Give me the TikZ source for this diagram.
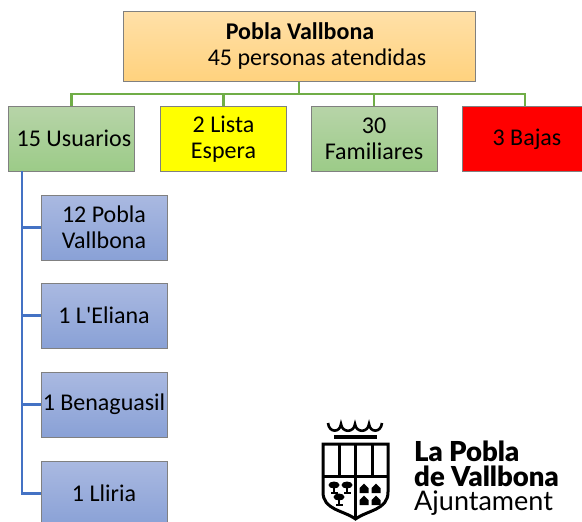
\documentclass[tikz,border=0pt]{standalone}
\usepackage{fontspec}
\usetikzlibrary{calc}
\setmainfont{Carlito}
\newfontfamily\plainfont{Carlito}
\newfontfamily\logofont[BoldFont={Lato Black}]{Lato}
\definecolor{oTop}{HTML}{FFE0A8}
\definecolor{oBot}{HTML}{FFD27E}
\definecolor{gTop}{HTML}{B7D4A8}
\definecolor{gBot}{HTML}{9CCB88}
\definecolor{bTop}{HTML}{AAB9E1}
\definecolor{bBot}{HTML}{89A1D6}
\definecolor{gLine}{HTML}{70AD47}
\definecolor{bLine}{HTML}{4472C4}
\definecolor{yBox}{HTML}{FFFF00}
\definecolor{rBox}{HTML}{FF0000}
\tikzset{
  box/.style={draw=black!50,line width=1pt,minimum width=126pt,minimum height=65pt,inner sep=0pt,align=center,font=\fontsize{24}{26}\selectfont,text=black},
  greenbox/.style={box,top color=gTop,bottom color=gBot},
  bluebox/.style={box,top color=bTop,bottom color=bBot},
  gline/.style={draw=gLine,line width=2.4pt},
  bline/.style={draw=bLine,line width=2.4pt},
  crest/.style={draw=black,line width=3pt,line join=miter},
  logotext/.style={anchor=west,inner sep=0pt}
}
\begin{document}
\begin{tikzpicture}[x=1pt,y=-1pt]
\useasboundingbox (0,0) rectangle (582,522);
\clip (0,0) rectangle (582,522);
\coordinate (bus) at (299,94);
\coordinate (trunk) at (22,171);
\node[box,minimum width=352pt,minimum height=70pt,top color=oTop,bottom color=oBot] (root) at (299,46) {\textbf{Pobla Vallbona}\hspace*{-2pt}\\\hspace*{36pt}45 personas atendidas};
\node[greenbox] (usu) at (71.5,138.5) {\hspace*{5pt}15 Usuarios};
\node[box,fill=yBox] (lista) at (223.5,139) {2 Lista\\Espera};
\node[greenbox] (fam) at (374,138.5) {30\\Familiares};
\node[box,fill=rBox] (baj) at (525,139) {\hspace*{4pt}3 Bajas};
\node[bluebox] (c1) at (104,227.5) {12 Pobla\\Vallbona};
\node[bluebox] (c2) at (104,315.5) {\plainfont 1 L'Eliana};
\node[bluebox] (c3) at (104,404.5) {1 Benaguasil};
\node[bluebox] (c4) at (104,493.5) {1 Lliria};
\draw[gline] (root.south) -- (bus) -| (usu.north);
\draw[gline] (bus) -| (lista.north);
\draw[gline] (bus) -| (fam.north);
\draw[gline] (bus) -| (baj.north);
\draw[bline] (trunk) |- (c1.west);
\draw[bline] (trunk) |- (c2.west);
\draw[bline] (trunk) |- (c3.west);
\draw[bline] (trunk) |- (c4.west);
% logo text
\node[logotext,font=\logofont\bfseries\fontsize{27.5}{27.5}\selectfont] (l1) at (414,451) {La Pobla};
\node[logotext,font=\logofont\bfseries\fontsize{27.5}{27.5}\selectfont] (l2) at (414,476) {de Vallbona};
\node[logotext,font=\logofont\fontsize{27}{27}\selectfont] (l3) at (414,503) {Ajuntament};
% crest
\draw[black,line width=2.6pt] (328,423) .. controls (329,433) and (340,433) .. (341,424) .. controls (342,433) and (354,433) .. (355,424) .. controls (356,433) and (368,433) .. (369,424) .. controls (370,433) and (381,433) .. (382,423);
\fill (334,435) rectangle (377,439);
\draw[crest] (323,444) -- (388,444) -- (388,492) .. controls (388,510) and (368,510) .. (355.5,519) .. controls (343,510) and (323,510) .. (323,492) -- cycle;
\draw[crest] (323,476) -- (388,476);
\draw[crest] (339,444) -- (339,476) (355.5,444) -- (355.5,519) (372,444) -- (372,476);
% lower left: trees
\foreach \tx/\ty in {334/485,347/485,339/497}{
  \fill (\tx,\ty) ellipse (5.5pt and 3.5pt);
  \fill (\tx-1.2,\ty) rectangle (\tx+1.2,\ty+8);
  \fill (\tx-3.5,\ty+7) rectangle (\tx+3.5,\ty+9);
}
% lower right: towers
\foreach \tx/\ty in {364/493,376/493,364/505,376/505}{
  \fill (\tx-4.5,\ty) -- (\tx-4.5,\ty-5) -- (\tx,\ty-9.5) -- (\tx+4.5,\ty-5) -- (\tx+4.5,\ty) -- cycle;
}
\end{tikzpicture}
\end{document}
